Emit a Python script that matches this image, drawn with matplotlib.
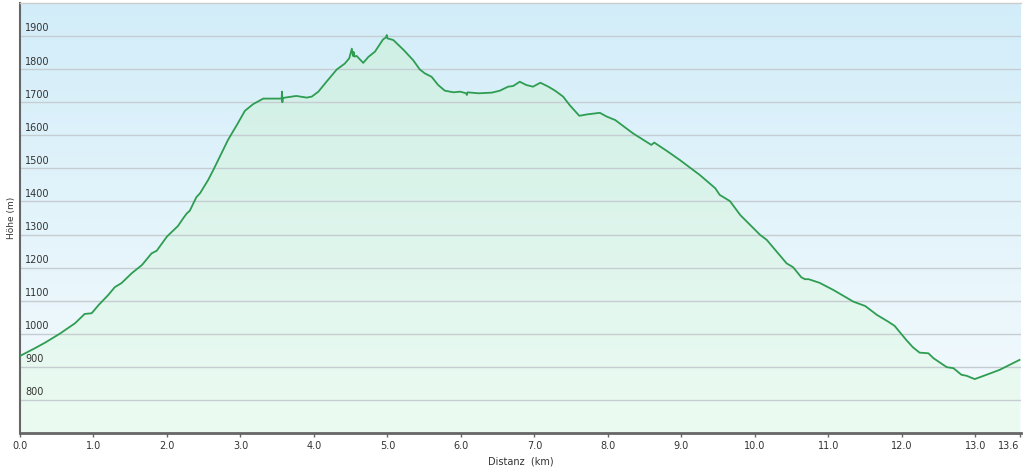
import numpy as np
import matplotlib
matplotlib.use("Agg")
import matplotlib.pyplot as plt
from matplotlib.colors import LinearSegmentedColormap
from matplotlib.patches import Polygon
from matplotlib.transforms import blended_transform_factory

# ---- profile data ----
distanz_km = [
    0.0, 0.2, 0.34, 0.54, 0.75, 0.88, 0.975, 1.07, 1.2, 1.29, 1.38, 1.52, 1.66,
    1.79, 1.86, 2.0, 2.15, 2.22, 2.27, 2.31, 2.40, 2.45, 2.56, 2.63, 2.83, 2.95,
    3.06, 3.17, 3.31, 3.56, 3.565, 3.57, 3.575, 3.76, 3.9, 3.97, 4.06, 4.17,
    4.31, 4.42, 4.48, 4.515, 4.53, 4.54, 4.55, 4.58, 4.67, 4.74, 4.83, 4.94,
    4.98, 4.99, 5.0, 5.08, 5.22, 5.35, 5.44, 5.51, 5.60, 5.69, 5.78, 5.90,
    5.99, 6.07, 6.08, 6.09, 6.24, 6.42, 6.53, 6.64, 6.71, 6.80, 6.89, 6.98,
    7.08, 7.19, 7.28, 7.39, 7.48, 7.61, 7.71, 7.89, 7.98, 8.10, 8.34, 8.59,
    8.63, 8.80, 8.98, 9.25, 9.46, 9.52, 9.66, 9.80, 10.07, 10.16, 10.43,
    10.52, 10.63, 10.68, 10.73, 10.88, 11.07, 11.34, 11.50, 11.66, 11.81,
    11.90, 12.06, 12.15, 12.24, 12.36, 12.43, 12.61, 12.70, 12.81, 12.88,
    12.99, 13.15, 13.33, 13.6,
]
hoehe_m = [
    933, 956, 973, 1000, 1032, 1060, 1062, 1087, 1117, 1141, 1153, 1183, 1208,
    1243, 1251, 1294, 1326, 1349, 1364, 1372, 1413, 1425, 1465, 1495, 1586, 1631,
    1674, 1694, 1711, 1711, 1732, 1700, 1713, 1719, 1714, 1717, 1732, 1762,
    1799, 1817, 1833, 1862, 1840, 1852, 1838, 1840, 1819, 1837, 1853, 1890,
    1896, 1903, 1893, 1888, 1858, 1827, 1799, 1787, 1777, 1752, 1735, 1730,
    1732, 1727, 1722, 1730, 1727, 1729, 1735, 1747, 1749, 1762, 1752, 1747,
    1759, 1747, 1735, 1717, 1691, 1659, 1663, 1668, 1657, 1646, 1606, 1571,
    1578, 1553, 1525, 1480, 1440, 1420, 1401, 1359, 1299, 1284, 1213,
    1201, 1171, 1165, 1165, 1154, 1132, 1097, 1084, 1057, 1037,
    1024, 981, 959, 943, 941, 926, 899, 896, 876, 873,
    863, 876, 891, 921,
]

y_ticks = [800, 900, 1000, 1100, 1200, 1300, 1400, 1500, 1600, 1700, 1800, 1900]
x_ticks = [0, 1, 2, 3, 4, 5, 6, 7, 8, 9, 10, 11, 12, 13, 13.6]
x_labels = ["0.0", "1.0", "2.0", "3.0", "4.0", "5.0", "6.0", "7.0", "8.0",
            "9.0", "10.0", "11.0", "12.0", "13.0", "13.6"]

X_MAX = 13.62
Y_MIN, Y_MAX = 700, 2000

fig = plt.figure(figsize=(10.24, 4.67), dpi=100)
ax = fig.add_axes([20 / 1024, 34 / 467, 1001 / 1024, 430 / 467])

# ---- background gradient ----
bg_cmap = LinearSegmentedColormap.from_list("bg", ["#f5fbfd", "#d2edf9"])
grad = np.linspace(0, 1, 256).reshape(-1, 1)
ax.imshow(grad, cmap=bg_cmap, extent=[0, X_MAX, Y_MIN, Y_MAX],
          origin="lower", aspect="auto", zorder=0)

# ---- filled area under the profile ----
fill_cmap = LinearSegmentedColormap.from_list("fill", ["#ecfbf2", "#cdeee4"])
im = ax.imshow(grad, cmap=fill_cmap, extent=[0, X_MAX, Y_MIN, Y_MAX],
               origin="lower", aspect="auto", zorder=1)
verts = list(zip(distanz_km, hoehe_m)) + [(distanz_km[-1], Y_MIN), (distanz_km[0], Y_MIN)]
poly = Polygon(verts, closed=True, facecolor="none", edgecolor="none",
               transform=ax.transData)
ax.add_patch(poly)
im.set_clip_path(poly)

# ---- grid lines ----
for v in y_ticks:
    ax.axhline(v, color="#c6cdd2", lw=1.0, zorder=2)

# ---- profile line ----
ax.plot(distanz_km, hoehe_m, color="#2e9d52", lw=1.3, zorder=3)

ax.set_xlim(0, X_MAX)
ax.set_ylim(Y_MIN, Y_MAX)

# y labels sit inside the plot, just above the grid lines
ax.set_yticks([])
trans = blended_transform_factory(ax.transAxes, ax.transData)
for v in y_ticks:
    ax.text(0.005, v + 8, str(v), transform=trans, fontsize=7,
            color="#333333", ha="left", va="bottom", zorder=4)

ax.set_xticks(x_ticks)
ax.set_xticklabels(x_labels, fontsize=7, color="#333333")
ax.get_xticklabels()[-1].set_horizontalalignment("right")
ax.tick_params(axis="x", direction="out", length=3, width=1, color="#666666", pad=3)

ax.set_xlabel("Distanz  (km)", fontsize=7, color="#333333", labelpad=4)
ax.set_ylabel("Höhe (m)", fontsize=6.5, color="#333333", labelpad=3)

ax.spines["right"].set_visible(False)
ax.spines["top"].set_color("#cccccc")
ax.spines["top"].set_linewidth(1)
ax.spines["left"].set_color("#666666")
ax.spines["left"].set_linewidth(1.5)
ax.spines["bottom"].set_color("#666666")
ax.spines["bottom"].set_linewidth(2)

fig.savefig("out.png", dpi=100)
plt.close(fig)
